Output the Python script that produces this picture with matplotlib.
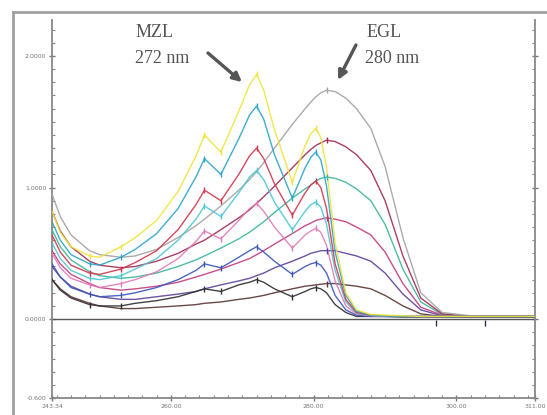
import matplotlib
matplotlib.use("Agg")
import matplotlib.pyplot as plt
from matplotlib.ticker import MultipleLocator, FixedLocator
from matplotlib.lines import Line2D

# ---------------- data ----------------
wavelength = [243.34, 244.5, 246, 248.6, 250, 253, 255, 258, 261, 263.5, 264.7, 267,
              269.5, 271, 272, 273, 274.5, 277, 278.8, 279.6, 280.3, 281, 281.8, 283,
              284.5, 286, 288, 290, 292.5, 295, 298, 302, 306, 311]

# MZL-type spectra (sharp bands at 272 / 280 nm)
mzl_yellow = [0.82, 0.66, 0.55, 0.48, 0.47, 0.55, 0.62, 0.75, 0.97, 1.24, 1.40, 1.27,
              1.58, 1.78, 1.86, 1.74, 1.44, 1.04, 1.32, 1.41, 1.45, 1.38, 1.15, 0.58,
              0.20, 0.07, 0.035, 0.03, 0.025, 0.02, 0.02, 0.02, 0.02, 0.02]
mzl_cyan = [0.74, 0.60, 0.49, 0.42, 0.41, 0.47, 0.53, 0.65, 0.84, 1.08, 1.22, 1.10,
            1.37, 1.55, 1.62, 1.52, 1.25, 0.92, 1.15, 1.23, 1.27, 1.21, 1.01, 0.51,
            0.18, 0.06, 0.03, 0.025, 0.02, 0.02, 0.02, 0.02, 0.02, 0.02]
mzl_red = [0.64, 0.51, 0.41, 0.35, 0.34, 0.38, 0.43, 0.52, 0.68, 0.87, 0.98, 0.90,
           1.10, 1.24, 1.30, 1.22, 1.03, 0.79, 0.96, 1.02, 1.05, 1.00, 0.84, 0.42,
           0.15, 0.05, 0.03, 0.025, 0.02, 0.02, 0.02, 0.02, 0.02, 0.02]
mzl_lightcyan = [0.58, 0.46, 0.37, 0.31, 0.30, 0.33, 0.38, 0.46, 0.60, 0.76, 0.86, 0.78,
                 0.96, 1.08, 1.13, 1.06, 0.89, 0.68, 0.82, 0.87, 0.89, 0.85, 0.72, 0.37,
                 0.13, 0.045, 0.03, 0.02, 0.02, 0.02, 0.02, 0.02, 0.02, 0.02]
mzl_pink = [0.50, 0.39, 0.31, 0.26, 0.24, 0.27, 0.30, 0.36, 0.46, 0.59, 0.67, 0.61,
            0.75, 0.84, 0.88, 0.82, 0.70, 0.54, 0.64, 0.67, 0.69, 0.66, 0.56, 0.29,
            0.10, 0.04, 0.025, 0.02, 0.02, 0.02, 0.02, 0.02, 0.02, 0.02]
mzl_blue = [0.42, 0.32, 0.24, 0.19, 0.17, 0.18, 0.20, 0.24, 0.30, 0.37, 0.42, 0.39,
            0.47, 0.52, 0.55, 0.51, 0.44, 0.34, 0.40, 0.42, 0.43, 0.41, 0.35, 0.18,
            0.07, 0.03, 0.02, 0.02, 0.02, 0.02, 0.02, 0.02, 0.02, 0.02]
mzl_black = [0.30, 0.22, 0.16, 0.11, 0.10, 0.10, 0.12, 0.14, 0.17, 0.21, 0.23, 0.21,
             0.26, 0.28, 0.30, 0.28, 0.23, 0.17, 0.21, 0.23, 0.24, 0.23, 0.20, 0.11,
             0.05, 0.02, 0.02, 0.02, 0.015, 0.015, 0.015, 0.015, 0.015, 0.015]

# EGL-type spectra (broad band at ~281 nm)
egl_gray = [0.95, 0.78, 0.64, 0.52, 0.49, 0.47, 0.48, 0.53, 0.62, 0.71, 0.76, 0.86,
            0.98, 1.06, 1.12, 1.19, 1.30, 1.48, 1.60, 1.65, 1.69, 1.72, 1.74, 1.73,
            1.68, 1.60, 1.45, 1.16, 0.62, 0.20, 0.05, 0.025, 0.02, 0.02]
egl_maroon = [0.82, 0.67, 0.55, 0.44, 0.41, 0.39, 0.40, 0.44, 0.50, 0.57, 0.60, 0.68,
              0.77, 0.83, 0.88, 0.93, 1.01, 1.15, 1.25, 1.29, 1.32, 1.34, 1.36, 1.35,
              1.31, 1.25, 1.13, 0.90, 0.48, 0.16, 0.04, 0.02, 0.02, 0.02]
egl_teal = [0.68, 0.55, 0.45, 0.36, 0.33, 0.31, 0.32, 0.35, 0.40, 0.45, 0.48, 0.54,
            0.61, 0.66, 0.70, 0.74, 0.81, 0.92, 0.99, 1.02, 1.05, 1.07, 1.08, 1.07,
            1.04, 0.99, 0.90, 0.72, 0.38, 0.13, 0.035, 0.02, 0.02, 0.02]
egl_magenta = [0.52, 0.42, 0.34, 0.27, 0.24, 0.22, 0.23, 0.25, 0.28, 0.32, 0.34, 0.38,
               0.43, 0.46, 0.49, 0.52, 0.57, 0.65, 0.71, 0.73, 0.75, 0.76, 0.77, 0.76,
               0.74, 0.70, 0.64, 0.51, 0.27, 0.09, 0.03, 0.02, 0.02, 0.02]
egl_purple = [0.40, 0.32, 0.25, 0.19, 0.17, 0.15, 0.15, 0.17, 0.19, 0.21, 0.23, 0.26,
              0.29, 0.31, 0.33, 0.35, 0.39, 0.44, 0.48, 0.50, 0.51, 0.52, 0.52, 0.52,
              0.50, 0.48, 0.44, 0.35, 0.19, 0.07, 0.025, 0.02, 0.02, 0.02]
egl_brown = [0.30, 0.23, 0.17, 0.12, 0.10, 0.08, 0.08, 0.09, 0.10, 0.11, 0.12, 0.13,
             0.15, 0.16, 0.17, 0.18, 0.20, 0.23, 0.25, 0.255, 0.26, 0.265, 0.27, 0.27,
             0.26, 0.25, 0.23, 0.18, 0.10, 0.04, 0.02, 0.015, 0.015, 0.015]

x_ticks = [243.34, 260, 280, 300, 311]
x_tick_labels = ["243.34", "260.00", "280.00", "300.00", "311.00"]
y_ticks = [2.0, 1.0, 0.0, -0.6]
y_tick_labels = ["2.0000", "1.0000", "0.0000", "-0.600"]

# peak-pick marker positions (indices into wavelength)
mzl_marks = [3, 5, 10, 11, 14, 17, 20]
egl_marks = [22]
baseline_marks = [297.1, 304.0]

# ---------------- figure ----------------
fig = plt.figure(figsize=(5.47, 4.15), dpi=100)
fig.patch.set_facecolor("white")
ax = fig.add_axes([52 / 547, 1 - 398 / 415, (535 - 52) / 547, (398 - 20) / 415])

curves = [
    (egl_brown, "#5a3434", egl_marks),
    (egl_purple, "#5e3f9a", egl_marks),
    (egl_magenta, "#c23a7c", egl_marks),
    (egl_teal, "#3bb49a", egl_marks),
    (egl_maroon, "#a02a52", egl_marks),
    (egl_gray, "#a2a2a2", egl_marks),
    (mzl_black, "#2e2e2e", mzl_marks),
    (mzl_blue, "#3a55b8", mzl_marks),
    (mzl_pink, "#e07ab8", mzl_marks),
    (mzl_lightcyan, "#4cc6d2", mzl_marks),
    (mzl_red, "#d2344c", mzl_marks),
    (mzl_cyan, "#2aa4c8", mzl_marks),
    (mzl_yellow, "#f0e43a", mzl_marks),
]

for vals, col, marks in curves:
    ax.plot(wavelength, vals, color=col, lw=1.0, alpha=0.9, zorder=3,
            solid_joinstyle="round")
    ax.plot([wavelength[i] for i in marks], [vals[i] for i in marks],
            linestyle="none", marker="|", ms=4, mew=1.0, color=col, zorder=4)

# baseline markers on the right
ax.plot(baseline_marks, [-0.03] * len(baseline_marks), linestyle="none", marker="|",
        ms=5, mew=1.0, color="#303050", zorder=4)

# zero line
ax.axhline(0, color="#555555", lw=1.0, zorder=2)

ax.set_xlim(243.34, 311.0)
ax.set_ylim(-0.6, 2.274)

ax.xaxis.set_major_locator(FixedLocator(x_ticks))
ax.set_xticklabels(x_tick_labels)
ax.xaxis.set_minor_locator(MultipleLocator(2))
ax.yaxis.set_major_locator(FixedLocator(y_ticks))
ax.set_yticklabels(y_tick_labels)
ax.yaxis.set_minor_locator(MultipleLocator(0.1))

ax.tick_params(axis="both", which="major", labelsize=4.5, labelcolor="#777777",
               color="#777777", length=4, width=1.0, direction="inout", pad=2)
ax.tick_params(axis="both", which="minor", color="#888888", length=2.5,
               width=0.8, direction="in")
ax.tick_params(axis="y", right=True, which="both")

for s in ["left", "right", "bottom"]:
    ax.spines[s].set_color("#888888")
    ax.spines[s].set_linewidth(1.3)
ax.spines["top"].set_visible(False)

# annotations
serif = ["Liberation Serif", "DejaVu Serif"]
ax.text(254.97, 2.144, "MZL", family=serif, fontsize=13, color="#555555",
        va="baseline", ha="left")
ax.text(254.97, 1.947, "272 nm", family=serif, fontsize=13, color="#555555",
        va="baseline", ha="left")
ax.text(287.46, 2.144, "EGL", family=serif, fontsize=13, color="#555555",
        va="baseline", ha="left")
ax.text(287.18, 1.947, "280 nm", family=serif, fontsize=13, color="#555555",
        va="baseline", ha="left")
arrow = dict(arrowstyle="-|>", lw=2.4, color="#555555", mutation_scale=13,
             shrinkA=0, shrinkB=0)
ax.annotate("", xy=(269.95, 1.802), xytext=(265.19, 2.023), arrowprops=arrow)
ax.annotate("", xy=(283.40, 1.818), xytext=(285.92, 2.084), arrowprops=arrow)

# outer frame (partially visible)
fw, fh = 547, 415
fig.add_artist(Line2D([12.5 / fw, 12.5 / fw], [0, 1 - 12.5 / fh],
                      transform=fig.transFigure, color="#a0a0a0", lw=2))
fig.add_artist(Line2D([12.5 / fw, 1], [1 - 12.5 / fh, 1 - 12.5 / fh],
                      transform=fig.transFigure, color="#a0a0a0", lw=2))

fig.savefig("out.png", dpi=100, facecolor="white")
